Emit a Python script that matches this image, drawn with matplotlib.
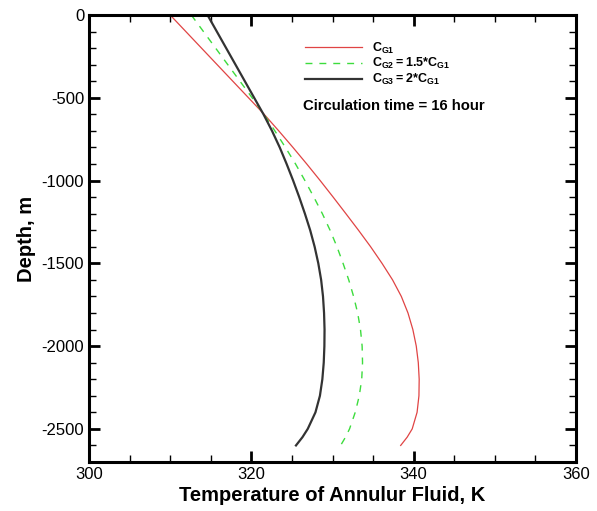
import matplotlib
matplotlib.use("Agg")
import matplotlib.pyplot as plt
from matplotlib.ticker import MultipleLocator

plt.rcParams['font.family'] = ['Liberation Sans', 'DejaVu Sans']
plt.rcParams['mathtext.fontset'] = 'custom'
plt.rcParams['mathtext.rm'] = 'Liberation Sans'
plt.rcParams['mathtext.bf'] = 'Liberation Sans:bold'
plt.rcParams['axes.unicode_minus'] = False

# depth points (m)
depth = [0, -100, -200, -300, -400, -500, -600, -700, -800, -900, -1000,
         -1100, -1200, -1300, -1400, -1500, -1600, -1700, -1800, -1900,
         -2000, -2100, -2200, -2300, -2400, -2500, -2550, -2600]

# annulus fluid temperature (K) for each case
temp_g1 = [310.0, 311.93, 313.86, 315.79, 317.72, 319.65, 321.58, 323.38,
           325.13, 326.83, 328.48, 330.08, 331.65, 333.2, 334.7, 336.1,
           337.4, 338.48, 339.3, 339.9, 340.32, 340.57, 340.68, 340.65,
           340.42, 339.82, 339.2, 338.4]
temp_g2 = [312.6, 314.1, 315.6, 317.1, 318.6, 320.1, 321.55, 322.9, 324.2,
           325.45, 326.6, 327.7, 328.75, 329.7, 330.55, 331.3, 332.0, 332.6,
           333.1, 333.45, 333.65, 333.7, 333.6, 333.3, 332.8, 332.1, 331.6,
           331.0]
temp_g3 = [314.6, 315.75, 316.9, 318.05, 319.2, 320.35, 321.5, 322.55,
           323.5, 324.35, 325.15, 325.9, 326.6, 327.25, 327.8, 328.25, 328.6,
           328.83, 328.96, 329.02, 329.0, 328.92, 328.75, 328.45, 327.9,
           326.95, 326.3, 325.5]

labels = [r'$\mathbf{C_{G1}}$',
          r'$\mathbf{C_{G2}{=}1.5{*}C_{G1}}$',
          r'$\mathbf{C_{G3}{=}2{*}C_{G1}}$']

fig = plt.figure(figsize=(5.97, 5.11), dpi=100)
ax = fig.add_axes([89/597, 1-462/511, (576-89)/597, (462-15)/511])

ax.plot(temp_g1, depth, color='#e04444', lw=0.9, label=labels[0])
ax.plot(temp_g2, depth, color='#3ddc3d', lw=1.0, dashes=(5, 5), label=labels[1])
ax.plot(temp_g3, depth, color='#333333', lw=1.6, label=labels[2])

ax.set_xlim(300, 360)
ax.set_ylim(-2700, 0)
ax.xaxis.set_major_locator(MultipleLocator(20))
ax.xaxis.set_minor_locator(MultipleLocator(5))
ax.yaxis.set_major_locator(MultipleLocator(500))
ax.yaxis.set_minor_locator(MultipleLocator(100))
ax.tick_params(which='both', direction='in', top=True, right=True, labelsize=12)
ax.tick_params(which='major', length=8, width=2)
ax.tick_params(which='minor', length=5, width=1)
for sp in ax.spines.values():
    sp.set_linewidth(2.2)

ax.set_xlabel('Temperature of Annulur Fluid, K', fontsize=14.5, fontweight='bold',
              labelpad=3)
ax.set_ylabel('Depth, m', fontsize=14.5, fontweight='bold')

leg = ax.legend(loc='upper left', bbox_to_anchor=(0.4435, 0.943), frameon=False,
                fontsize=9, handlelength=4.6, handletextpad=0.8,
                labelspacing=0.06, borderpad=0, borderaxespad=0)
ax.text(0.439, 0.797, 'Circulation time = 16 hour', transform=ax.transAxes,
        fontsize=10.7, fontweight='bold', va='center')

fig.savefig('out.png', dpi=100)
